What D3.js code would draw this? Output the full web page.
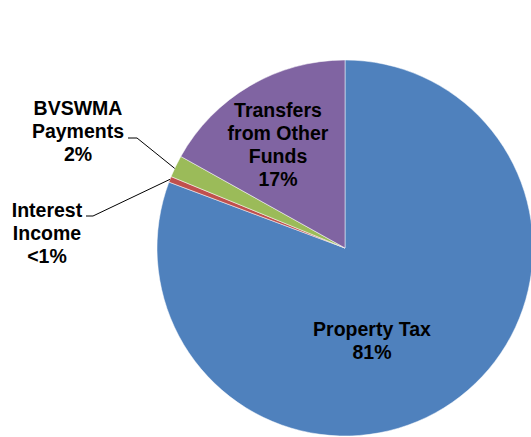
<!DOCTYPE html>
<html><head><meta charset="utf-8">
<script src="https://cdn.jsdelivr.net/npm/d3@7"></script>
<style>body{margin:0;background:#fff}svg{display:block}</style>
</head><body>
<script>
const categories = ["Property Tax", "Interest Income", "BVSWMA Payments", "Transfers from Other Funds"];
const values = [80.7, 0.5, 1.9, 16.9];
const pctLabels = ["81%", "<1%", "2%", "17%"];
const colors = ["#4F81BD", "#C0504D", "#9BBB59", "#8064A2"];

const W = 531, H = 437;
const cx = 345, cy = 248, r = 188;
const svg = d3.select("body").append("svg").attr("width", W).attr("height", H);
const g = svg.append("g").attr("transform", `translate(${cx},${cy})`);

const pie = d3.pie().sort(null).value(d => d)(values);
const arc = d3.arc().innerRadius(0).outerRadius(r);
g.selectAll("path").data(pie).enter().append("path")
  .attr("d", arc).attr("fill", (d, i) => colors[i])
  .attr("stroke", "#fff").attr("stroke-width", 0.5);

const font = "'Liberation Sans', Arial, sans-serif";
function label(lines, x, y0, dy) {
  const t = svg.append("text").attr("text-anchor", "middle")
    .attr("font-family", font).attr("font-weight", "bold").attr("font-size", 19.5).attr("fill", "#000");
  lines.forEach((l, i) => t.append("tspan").attr("x", x).attr("y", y0 + i * dy).text(l));
}
function edgePoint(i, frac) {
  const d = pie[i];
  const a = d.startAngle + (d.endAngle - d.startAngle) * frac;
  return [cx + r * Math.sin(a), cy - r * Math.cos(a)];
}
const pB = edgePoint(2, 0.4), pI = edgePoint(1, 0.5);
svg.append("polyline").attr("points", `128,138 137,138 ${pB[0]},${pB[1]}`)
  .attr("fill", "none").attr("stroke", "#000").attr("stroke-width", 1);
svg.append("polyline").attr("points", `86,216 93,216 ${pI[0]},${pI[1]}`)
  .attr("fill", "none").attr("stroke", "#000").attr("stroke-width", 1);

label(["Property Tax", pctLabels[0]], 372, 336, 22.5);
label(["Transfers", "from Other", "Funds", pctLabels[3]], 278, 117, 23);
label(["BVSWMA", "Payments", pctLabels[2]], 78, 115, 23);
label(["Interest", "Income", pctLabels[1]], 47, 217, 23);
</script>
</body></html>
